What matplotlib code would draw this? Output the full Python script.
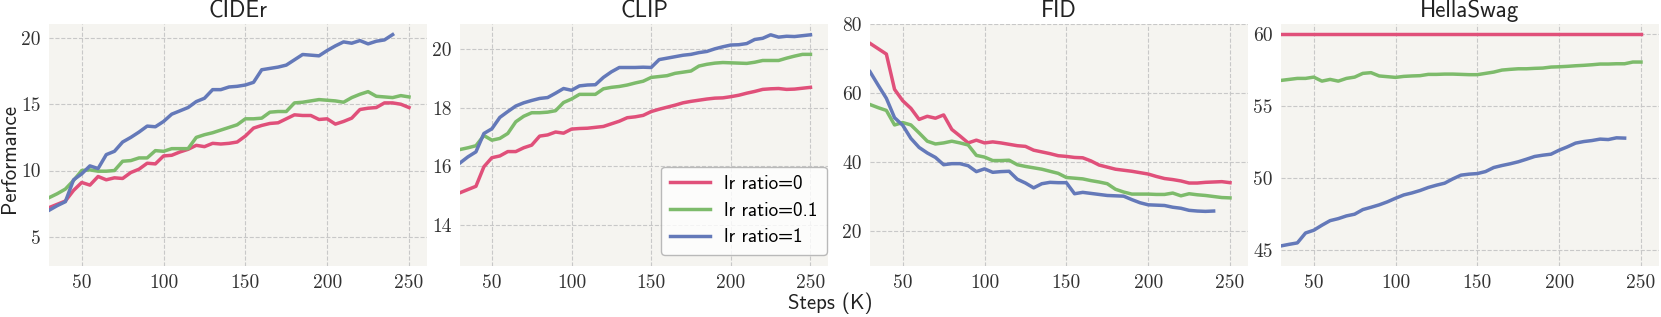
import matplotlib
matplotlib.use("Agg")
import matplotlib.pyplot as plt
import numpy as np

steps = list(range(30, 255, 5))
steps_b = list(range(30, 245, 5))
labels = ["lr ratio=0", "lr ratio=0.1", "lr ratio=1"]
titles = ["CIDEr", "CLIP", "FID", "HellaSwag"]

cider_r0 = [7.2, 7.45, 7.7, 8.5, 9.1, 8.9, 9.55, 9.3, 9.45, 9.4, 9.85, 10.1, 10.55, 10.5, 11.1, 11.15,
            11.4, 11.6, 11.9, 11.8, 12.05, 12.0, 12.05, 12.15, 12.6, 13.2, 13.4, 13.55, 13.6, 13.9,
            14.2, 14.15, 14.15, 13.85, 13.9, 13.5, 13.7, 13.95, 14.6, 14.7, 14.75, 15.1, 15.1, 15.0, 14.75]
cider_r01 = [7.95, 8.25, 8.6, 9.25, 10.0, 10.05, 9.95, 9.95, 10.0, 10.7, 10.75, 10.95, 10.95, 11.5, 11.45,
             11.65, 11.65, 11.65, 12.5, 12.7, 12.85, 13.05, 13.25, 13.45, 13.9, 13.9, 13.95, 14.4, 14.45,
             14.45, 15.1, 15.15, 15.25, 15.35, 15.3, 15.25, 15.15, 15.5, 15.75, 15.95, 15.6, 15.55, 15.5,
             15.65, 15.55]
cider_r1 = [7.0, 7.35, 7.65, 9.3, 9.75, 10.35, 10.15, 11.2, 11.45, 12.15, 12.5, 12.9, 13.35, 13.3, 13.7,
            14.25, 14.5, 14.75, 15.2, 15.45, 16.1, 16.1, 16.3, 16.35, 16.45, 16.65, 17.6, 17.7, 17.8,
            17.95, 18.35, 18.75, 18.7, 18.65, 19.05, 19.4, 19.7, 19.6, 19.8, 19.55, 19.75, 19.85, 20.25]

clip_r0 = [15.09, 15.2, 15.31, 15.98, 16.29, 16.35, 16.5, 16.5, 16.63, 16.72, 17.03, 17.07, 17.17, 17.13,
           17.27, 17.29, 17.3, 17.33, 17.36, 17.45, 17.54, 17.66, 17.69, 17.74, 17.87, 17.95, 18.02,
           18.09, 18.17, 18.22, 18.26, 18.3, 18.33, 18.34, 18.38, 18.43, 18.5, 18.56, 18.63, 18.65,
           18.66, 18.63, 18.64, 18.67, 18.7]
clip_r01 = [16.57, 16.63, 16.7, 17.05, 16.89, 16.95, 17.12, 17.52, 17.71, 17.83, 17.83, 17.85, 17.9,
            18.18, 18.3, 18.46, 18.46, 18.46, 18.65, 18.7, 18.73, 18.78, 18.85, 18.91, 19.04, 19.07,
            19.1, 19.18, 19.22, 19.26, 19.43, 19.49, 19.53, 19.55, 19.54, 19.53, 19.52, 19.56, 19.62,
            19.62, 19.62, 19.7, 19.77, 19.83, 19.83]
clip_r1 = [16.11, 16.32, 16.49, 17.12, 17.28, 17.67, 17.87, 18.06, 18.17, 18.25, 18.32, 18.35, 18.5,
           18.66, 18.6, 18.75, 18.78, 18.79, 19.04, 19.23, 19.38, 19.38, 19.38, 19.39, 19.38, 19.65,
           19.7, 19.75, 19.8, 19.83, 19.89, 19.93, 20.02, 20.09, 20.15, 20.16, 20.2, 20.34, 20.38,
           20.5, 20.42, 20.45, 20.44, 20.47, 20.5]

fid_r0 = [74.4, 72.85, 71.3, 61.1, 57.8, 55.6, 52.4, 53.3, 52.75, 53.7, 49.5, 47.6, 45.6, 46.4, 45.6,
          45.9, 45.6, 45.2, 44.8, 44.6, 43.5, 43.0, 42.5, 41.9, 41.7, 41.4, 41.3, 40.4, 39.2, 38.6,
          38.0, 37.7, 37.4, 37.0, 36.6, 35.9, 35.3, 35.0, 34.6, 34.0, 34.0, 34.2, 34.3, 34.4, 34.1]
fid_r01 = [56.7, 55.8, 55.0, 50.8, 51.5, 50.8, 48.5, 46.1, 45.3, 45.6, 46.1, 45.6, 45.0, 42.0, 41.5,
           40.5, 40.5, 40.6, 39.3, 38.8, 38.4, 38.0, 37.4, 36.8, 35.6, 35.4, 35.2, 34.7, 34.3, 33.8,
           32.2, 31.4, 30.8, 30.8, 30.8, 30.7, 30.7, 31.1, 30.3, 30.9, 30.6, 30.4, 30.1, 29.8, 29.7]
fid_r1 = [66.2, 62.3, 58.5, 52.9, 50.7, 46.9, 44.3, 42.7, 41.4, 39.3, 39.6, 39.6, 39.0, 37.3, 38.1,
          37.1, 37.3, 37.4, 35.1, 34.0, 32.6, 33.8, 34.2, 34.1, 34.1, 30.9, 31.3, 31.0, 30.7, 30.4,
          30.3, 30.2, 29.2, 28.3, 27.7, 27.6, 27.5, 27.0, 26.7, 26.1, 25.9, 25.8, 25.9]

hs_r0 = [60.0] * 45
hs_r01 = [56.79, 56.86, 56.93, 56.93, 57.02, 56.74, 56.86, 56.74, 56.93, 57.02, 57.28, 57.33, 57.1,
          57.05, 57.0, 57.07, 57.1, 57.12, 57.21, 57.21, 57.23, 57.23, 57.21, 57.19, 57.19, 57.28,
          57.37, 57.51, 57.56, 57.6, 57.6, 57.63, 57.65, 57.72, 57.74, 57.77, 57.81, 57.84, 57.88,
          57.93, 57.93, 57.95, 57.95, 58.07, 58.07]
hs_r1 = [45.26, 45.37, 45.47, 46.16, 46.35, 46.7, 47.02, 47.16, 47.35, 47.47, 47.79, 47.95, 48.12,
         48.33, 48.58, 48.81, 48.95, 49.12, 49.33, 49.49, 49.63, 49.93, 50.19, 50.26, 50.3, 50.44,
         50.72, 50.86, 50.98, 51.12, 51.3, 51.49, 51.58, 51.65, 51.93, 52.16, 52.42, 52.53, 52.6,
         52.7, 52.67, 52.79, 52.77]

yticks = [[5, 10, 15, 20], [14, 16, 18, 20], [20, 40, 60, 80], [45, 50, 55, 60]]
ylims = [(2.8, 21.05), (12.58, 20.87), (10, 80), (43.86, 60.72)]

colors = ["#e0507a", "#7dbb6b", "#6479b9"]
bg = "#f5f4f0"

series = [
    (cider_r0, cider_r01, cider_r1),
    (clip_r0, clip_r01, clip_r1),
    (fid_r0, fid_r01, fid_r1),
    (hs_r0, hs_r01, hs_r1),
]
blue_steps = [steps_b, steps, steps_b, steps_b]

W, H = 1661, 317
fig = plt.figure(figsize=(W / 100, H / 100), dpi=100)
fig.patch.set_facecolor("white")

lefts = [49, 460, 870, 1281]
rights = [427, 828, 1248, 1659]
top_px, bot_px = 24, 266

axes = []
for i in range(4):
    ax = fig.add_axes([lefts[i] / W, (H - bot_px) / H, (rights[i] - lefts[i]) / W, (bot_px - top_px) / H])
    ax.set_facecolor(bg)
    for s in ax.spines.values():
        s.set_visible(False)
    ax.grid(True, color="#c8c8c8", linestyle="--", linewidth=0.8)
    ax.set_axisbelow(True)
    r0, r01, r1 = series[i]
    ax.plot(steps, r0, color=colors[0], lw=2.5, label=labels[0])
    ax.plot(steps, r01, color=colors[1], lw=2.5, label=labels[1])
    ax.plot(blue_steps[i], r1, color=colors[2], lw=2.5, label=labels[2])
    ax.set_xlim(30, 261)
    ax.set_ylim(*ylims[i])
    ax.set_xticks([50, 100, 150, 200, 250])
    ax.set_yticks(yticks[i])
    ax.tick_params(length=0, labelsize=14, labelfontfamily="cmr10", labelcolor="#333333", pad=6)
    ax.set_title(titles[i], fontsize=16.5, family="cmss10", color="#222222", pad=5)
    axes.append(ax)

ax_w = rights[1] - lefts[1]
ax_h = bot_px - top_px
leg = axes[1].legend(loc="lower right", bbox_to_anchor=(1 - 1.5 / ax_w, 11 / ax_h),
                     prop={"family": "cmss10", "size": 13.8},
                     frameon=True, fancybox=True, borderaxespad=0, handlelength=2.1,
                     labelspacing=0.45, borderpad=0.45, handletextpad=0.75)
leg.get_frame().set_facecolor("white")
leg.get_frame().set_alpha(0.8)
leg.get_frame().set_edgecolor("#aaaaaa")

fig.text(830 / W, 1 - 303 / H, "Steps (K)", ha="center", va="center", family="cmss10", fontsize=15, color="#222222")
fig.text(10 / W, 0.5, "Performance", ha="center", va="center", rotation=90, family="cmss10", fontsize=15, color="#222222")

fig.savefig("out.png", dpi=100, facecolor="white")
